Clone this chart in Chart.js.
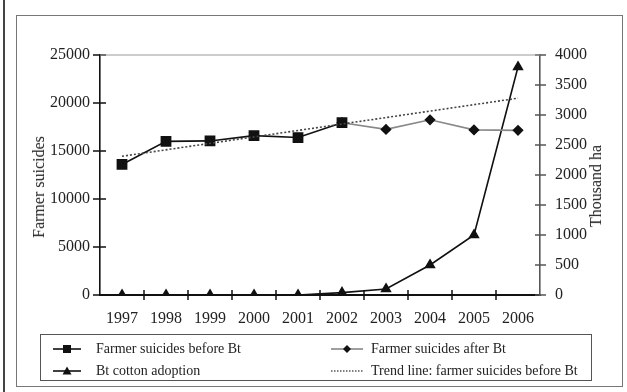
<!DOCTYPE html>
<html>
<head>
<meta charset="utf-8">
<script src="https://cdn.jsdelivr.net/npm/chart.js@4/dist/chart.umd.min.js"></script>
<style>
body { margin:0; background:#fff; }
#wrap { position:relative; width:627px; height:392px; overflow:hidden; font-family:"Liberation Serif", serif; color:#222; }
#edge { position:absolute; left:3px; top:0; width:2px; height:392px; background:#444; }
#frame { position:absolute; left:16px; top:15px; width:605px; height:370px; border:1px solid #777; }
#box { position:absolute; left:0; top:0; width:627px; height:392px; }
.ytitle { position:absolute; font-size:16px; white-space:nowrap; transform:translate(-50%,-50%) rotate(-90deg); }
#legend { position:absolute; left:40px; top:334px; width:550px; height:45px; border:1.5px solid #555; }
.item { position:absolute; font-size:14px; line-height:16px; white-space:nowrap; }
.item svg { position:absolute; top:2px; }
.item span { position:absolute; top:0; }
</style>
</head>
<body>
<div id="wrap">
  <div id="edge"></div>
  <div id="frame"></div>
  <div id="box"><canvas id="grafik"></canvas></div>
  <div class="ytitle" style="left:39px;top:187px">Farmer suicides</div>
  <div class="ytitle" style="left:596px;top:186px">Thousand ha</div>
  <div id="legend">
    <div class="item" style="left:12px;top:6px">
      <svg width="28" height="12"><line x1="0" y1="6" x2="28" y2="6" stroke="#111" stroke-width="1.6"/><rect x="10" y="2" width="8" height="8" fill="#111"/></svg>
      <span style="left:43px">Farmer suicides before Bt</span>
    </div>
    <div class="item" style="left:290px;top:6px">
      <svg width="32" height="12"><line x1="0" y1="6" x2="32" y2="6" stroke="#888" stroke-width="1.6"/><polygon points="16,2 20,6 16,10 12,6" fill="#111"/></svg>
      <span style="left:40px">Farmer suicides after Bt</span>
    </div>
    <div class="item" style="left:12px;top:28px">
      <svg width="28" height="12"><line x1="0" y1="6" x2="28" y2="6" stroke="#111" stroke-width="1.6"/><polygon points="14,1.5 18.5,9.5 9.5,9.5" fill="#111"/></svg>
      <span style="left:43px">Bt cotton adoption</span>
    </div>
    <div class="item" style="left:290px;top:28px">
      <svg width="32" height="12"><line x1="0" y1="6" x2="32" y2="6" stroke="#555" stroke-width="1.5" stroke-dasharray="1.5,1.5"/></svg>
      <span style="left:40px">Trend line: farmer suicides before Bt</span>
    </div>
  </div>
</div>
<script>
// data
var years = ['1997','1998','1999','2000','2001','2002','2003','2004','2005','2006'];
var suicidesBeforeBt = [13600, 16000, 16050, 16600, 16400, 17950, null, null, null, null];
var suicidesAfterBt  = [null, null, null, null, null, 17950, 17250, 18250, 17200, 17150];
var btCottonArea     = [0, 0, 0, 0, 0, 40, 100, 500, 1000, 3800];   // thousand ha
var trendBeforeBt    = [14450, null, null, null, null, null, null, null, null, 20500];

var tickFont = { family: 'Liberation Serif', size: 16 };
function plain(v){ return String(v); }

// tick marks crossing the axes + grey top edge of the plot
var axisMarks = {
	id: 'axisMarks',
	afterDraw: function(chart){
		var c = chart.ctx, a = chart.chartArea;
		var x = chart.scales.x, y = chart.scales.y, y1 = chart.scales.y1;
		c.save();
		c.lineWidth = 1.5;
		c.strokeStyle = '#111';
		c.beginPath();
		for (var i = 0; i < years.length - 1; i++) {
			var px = (x.getPixelForTick(i) + x.getPixelForTick(i + 1)) / 2;
			c.moveTo(px, a.bottom - 5); c.lineTo(px, a.bottom + 5);
		}
		y.ticks.forEach(function(t){
			var py = y.getPixelForValue(t.value);
			c.moveTo(a.left - 7, py); c.lineTo(a.left + 6, py);
		});
		c.stroke();
		c.strokeStyle = '#555';
		c.beginPath();
		y1.ticks.forEach(function(t){
			var py = y1.getPixelForValue(t.value);
			c.moveTo(a.right - 5, py); c.lineTo(a.right + 6, py);
		});
		c.stroke();
		c.strokeStyle = '#999';
		c.lineWidth = 1.2;
		c.beginPath();
		c.moveTo(a.left, a.top); c.lineTo(a.right, a.top);
		c.stroke();
		c.restore();
	}
};

var ctx = document.getElementById('grafik').getContext('2d');
var myChart = new Chart(ctx, {
	type: 'line',
	data: {
		labels: years,
		datasets: [
			{
				label: 'Trend line: farmer suicides before Bt',
				data: trendBeforeBt,
				yAxisID: 'y',
				borderColor: '#444',
				borderWidth: 1.6,
				borderDash: [2, 2],
				pointRadius: 0,
				spanGaps: true
			},
			{
				label: 'Farmer suicides before Bt',
				data: suicidesBeforeBt,
				yAxisID: 'y',
				borderColor: '#111',
				borderWidth: 1.6,
				pointStyle: 'rect',
				pointRadius: 6.5,
				pointBackgroundColor: '#111',
				pointBorderColor: '#111'
			},
			{
				label: 'Farmer suicides after Bt',
				data: suicidesAfterBt,
				yAxisID: 'y',
				borderColor: '#888',
				borderWidth: 1.6,
				pointStyle: 'rectRot',
				pointRadius: 4.5,
				pointBackgroundColor: '#111',
				pointBorderColor: '#111'
			},
			{
				label: 'Bt cotton adoption',
				data: btCottonArea,
				yAxisID: 'y1',
				borderColor: '#111',
				borderWidth: 1.6,
				pointStyle: 'triangle',
				pointRadius: 5,
				pointBackgroundColor: '#111',
				pointBorderColor: '#111'
			}
		]
	},
	options: {
		responsive: true,
		maintainAspectRatio: false,
		animation: false,
		layout: { padding: { top: 55, left: 0, right: 0, bottom: 0 } },
		plugins: { legend: { display: false }, tooltip: { enabled: false } },
		scales: {
			x: {
				offset: true,
				grid: { display: false, drawTicks: false },
				border: { color: '#111', width: 2 },
				ticks: { color: '#222', font: tickFont, padding: 14 },
				afterFit: function(s){ s.height = 97; }
			},
			y: {
				position: 'left',
				min: 0, max: 25000,
				grid: { display: false, drawTicks: false },
				border: { color: '#111', width: 1.6 },
				ticks: { stepSize: 5000, color: '#222', font: tickFont, padding: 10, callback: plain },
				afterFit: function(s){ s.width = 100; }
			},
			y1: {
				position: 'right',
				min: 0, max: 4000,
				grid: { display: false, drawTicks: false },
				border: { color: '#555', width: 1.6 },
				ticks: { stepSize: 500, color: '#222', font: tickFont, padding: 15, callback: plain },
				afterFit: function(s){ s.width = 87; }
			}
		}
	},
	plugins: [axisMarks]
});
</script>
</body>
</html>
